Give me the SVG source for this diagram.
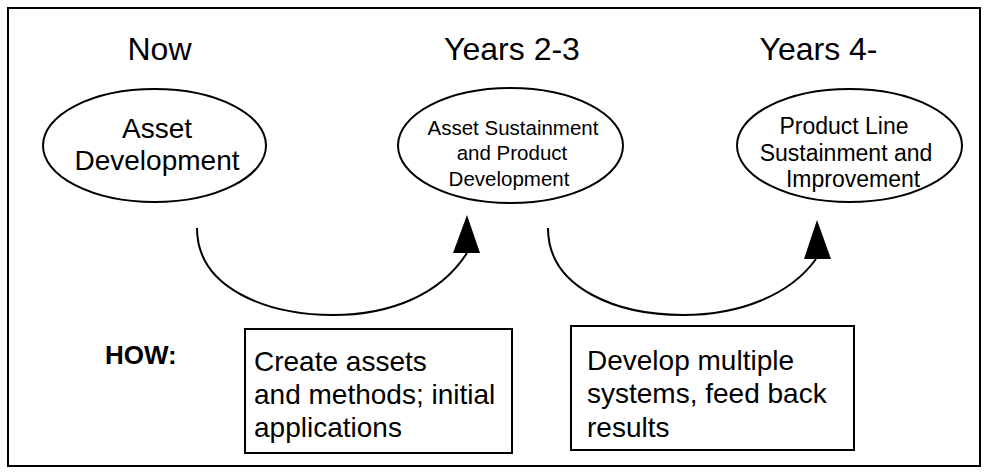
<svg xmlns="http://www.w3.org/2000/svg" width="988" height="474" viewBox="0 0 988 474">
<style>
text{font-family:"Liberation Sans",Arial,sans-serif;fill:#000}
.hd{font-size:32px;text-anchor:middle}
.n1{font-size:28px;text-anchor:middle}
.n2{font-size:20.5px;text-anchor:middle}
.n3{font-size:23px;text-anchor:middle}
.bx{font-size:28px}
.shape{fill:#fff;stroke:#000;stroke-width:2}
.conn{fill:none;stroke:#000;stroke-width:2}
.head{fill:#000;stroke:none}
</style>
<rect x="8" y="8" width="972" height="458" fill="#fff" stroke="#000" stroke-width="2"/>
<text class="hd" x="159.5" y="60">Now</text>
<text class="hd" x="512" y="60">Years 2-3</text>
<text class="hd" x="818.5" y="60">Years 4-</text>
<text x="105" y="364" style="font-size:26px;font-weight:bold">HOW:</text>
<g id="node-asset-dev">
<ellipse class="shape" cx="154.5" cy="145.5" rx="111.5" ry="56.5"/>
<text class="n1" x="157" y="138">Asset</text>
<text class="n1" x="157" y="170">Development</text>
</g>
<g id="node-asset-sustain">
<ellipse class="shape" cx="510.5" cy="145.5" rx="112.5" ry="57.5"/>
<text class="n2" x="513" y="135">Asset Sustainment</text>
<text class="n2" x="512" y="160">and Product</text>
<text class="n2" x="509" y="186">Development</text>
</g>
<g id="node-product-line">
<ellipse class="shape" cx="849.5" cy="145.5" rx="112.5" ry="56.5"/>
<text class="n3" x="844" y="134">Product Line</text>
<text class="n3" x="846" y="160.5">Sustainment and</text>
<text class="n3" x="853" y="187">Improvement</text>
</g>
<g id="node-box1">
<rect class="shape" x="245" y="329" width="267" height="124"/>
<text class="bx" x="254" y="371">Create assets</text>
<text class="bx" x="254" y="404">and methods; initial</text>
<text class="bx" x="254" y="437">applications</text>
</g>
<g id="node-box2">
<rect class="shape" x="571" y="326" width="283" height="124"/>
<text class="bx" x="587" y="370">Develop multiple</text>
<text class="bx" x="587" y="403">systems, feed back</text>
<text class="bx" x="587" y="437">results</text>
</g>
<g id="connectors">
<path class="conn" d="M197,228 C197,290 270,315 333,315 C390,315 440,295 467,253"/>
<polygon class="head" points="467,215 453,253 480,253"/>
<path class="conn" d="M548,228 C548,290 620,315 683,315 C740,315 790,295 816,259"/>
<polygon class="head" points="817,220 804,259 831,259"/>
</g>
</svg>
